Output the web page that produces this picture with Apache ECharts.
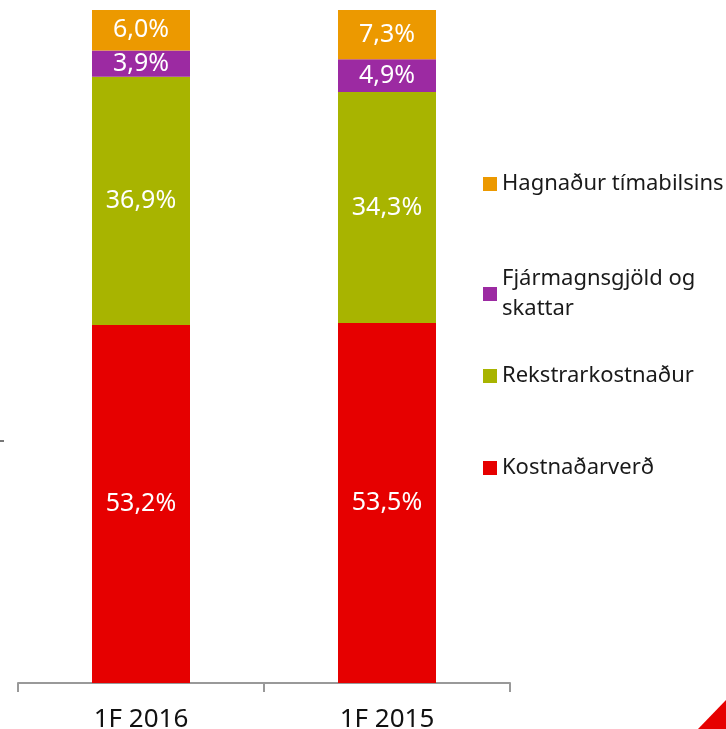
<!DOCTYPE html>
<html>
<head>
<meta charset="utf-8">
<script src="https://cdn.jsdelivr.net/npm/echarts@6/dist/echarts.min.js"></script>
<style>
  html, body { margin: 0; padding: 0; background: #fff; }
  #chart { width: 726px; height: 729px; }
</style>
</head>
<body>
<div id="chart"></div>
<script>
const categories = ['1F 2016', '1F 2015'];
const kostnadarverd = [53.2, 53.5];
const rekstrarkostnadur = [36.9, 34.3];
const fjarmagnsgjold = [3.9, 4.9];
const hagnadur = [6.0, 7.3];

const seriesNames = ['Kostnaðarverð', 'Rekstrarkostnaður', 'Fjármagnsgjöld og\nskattar', 'Hagnaður tímabilsins'];
const colors = ['#E60000', '#A8B400', '#9C2AA2', '#EC9900'];

const font = 'Noto Sans';

function pct(p) {
  return p.value.toFixed(1).replace('.', ',') + '%';
}

function makeSeries(name, data, color) {
  return {
    name: name,
    type: 'bar',
    stack: 'total',
    barWidth: 98,
    data: data,
    itemStyle: { color: color },
    label: {
      show: true,
      position: 'inside',
      color: '#fff',
      fontFamily: font,
      fontSize: 25,
      formatter: pct
    }
  };
}

function legendAt(name, top) {
  return {
    data: [name],
    left: 483,
    top: top,
    padding: 0,
    orient: 'vertical',
    icon: 'rect',
    itemWidth: 14,
    itemHeight: 14,
    selectedMode: false,
    textStyle: { fontFamily: font, fontSize: 22, color: '#1a1a1a', lineHeight: 30 }
  };
}

const chart = echarts.init(document.getElementById('chart'));
chart.setOption({
  animation: false,
  grid: { left: 18, right: 216, top: 10, bottom: 46, containLabel: false, outerBoundsMode: 'none' },
  xAxis: {
    type: 'category',
    data: categories,
    axisLine: { lineStyle: { color: '#999', width: 2 } },
    axisTick: { show: true, length: 9, lineStyle: { color: '#999', width: 2 } },
    axisLabel: { color: '#111', fontFamily: font, fontSize: 26, margin: 24 }
  },
  yAxis: {
    type: 'value',
    min: 0,
    max: 100,
    show: false
  },
  legend: [
    legendAt(seriesNames[3], 169),
    legendAt(seriesNames[2], 264),
    legendAt(seriesNames[1], 361),
    legendAt(seriesNames[0], 453)
  ],
  graphic: [
    { type: 'rect', shape: { x: 0, y: 440, width: 4, height: 2 }, style: { fill: '#777' } },
    { type: 'polygon', shape: { points: [[698, 729], [726, 700], [726, 729]] }, style: { fill: '#E60000' } }
  ],
  series: [
    makeSeries(seriesNames[0], kostnadarverd, colors[0]),
    makeSeries(seriesNames[1], rekstrarkostnadur, colors[1]),
    makeSeries(seriesNames[2], fjarmagnsgjold, colors[2]),
    makeSeries(seriesNames[3], hagnadur, colors[3])
  ]
});
</script>
</body>
</html>
